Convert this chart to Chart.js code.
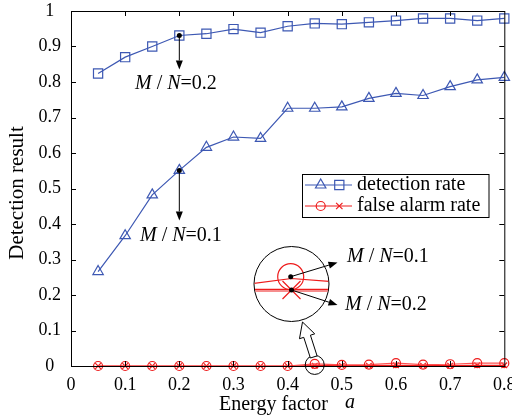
<!DOCTYPE html>
<html>
<head>
<meta charset="utf-8">
<script src="https://cdn.jsdelivr.net/npm/chart.js@4.4.0/dist/chart.umd.min.js"></script>
<style>
  body { margin: 0; background: #fff; }
  canvas { display: block; }
</style>
</head>
<body>
<canvas id="chart" width="512" height="418"></canvas>
<script>
// Energy factor a (x) and detection results
const energy = [0.05, 0.1, 0.15, 0.2, 0.25, 0.3, 0.35, 0.4, 0.45, 0.5, 0.55, 0.6, 0.65, 0.7, 0.75, 0.8];
const detectMN01 = [0.266, 0.367, 0.482, 0.551, 0.616, 0.645, 0.641, 0.726, 0.726, 0.730, 0.754, 0.768, 0.762, 0.787, 0.806, 0.813];
const detectMN02 = [0.824, 0.870, 0.900, 0.931, 0.936, 0.949, 0.939, 0.957, 0.965, 0.963, 0.968, 0.973, 0.979, 0.979, 0.973, 0.979];
const falseMN01 = [0, 0, 0, 0, 0, 0, 0, 0, 0.006, 0.003, 0.004, 0.008, 0.004, 0.005, 0.008, 0.008];
const falseMN02 = [0, 0, 0, 0, 0, 0, 0, 0, 0.001, 0.001, 0.001, 0.002, 0.001, 0.001, 0.002, 0.002];
const xTicks = [0, 0.1, 0.2, 0.3, 0.4, 0.5, 0.6, 0.7, 0.8];
const yTicks = [0, 0.1, 0.2, 0.3, 0.4, 0.5, 0.6, 0.7, 0.8, 0.9, 1];

const BLUE = '#3d58b3';
const RED = '#ee1c1c';
const RED_LIGHT = '#ff5050';
const SERIF = '"Liberation Serif", "DejaVu Serif", serif';

const toPoints = ys => ys.map((y, i) => ({ x: energy[i], y: y }));

function arrow(ctx, x1, y1, x2, y2) {
    const ang = Math.atan2(y2 - y1, x2 - x1);
    const hl = 9, hw = 3.5;
    const bx = x2 - Math.cos(ang) * hl, by = y2 - Math.sin(ang) * hl;
    ctx.beginPath();
    ctx.moveTo(x1, y1);
    ctx.lineTo(bx, by);
    ctx.stroke();
    ctx.beginPath();
    ctx.moveTo(x2, y2);
    ctx.lineTo(bx - Math.sin(ang) * hw, by + Math.cos(ang) * hw);
    ctx.lineTo(bx + Math.sin(ang) * hw, by - Math.cos(ang) * hw);
    ctx.closePath();
    ctx.fill();
}

function dot(ctx, x, y) {
    ctx.beginPath();
    ctx.arc(x, y, 2.5, 0, Math.PI * 2);
    ctx.fill();
}

// "M / N=0.x" with italic M and N, left edge x, middle y
function mnLabel(ctx, x, y, val) {
    const parts = [['M', true], [' / ', false], ['N', true], ['=' + val, false]];
    ctx.textBaseline = 'middle';
    ctx.textAlign = 'left';
    parts.forEach(p => {
        ctx.font = (p[1] ? 'italic ' : '') + '20px ' + SERIF;
        ctx.fillText(p[0], x, y);
        x += ctx.measureText(p[0]).width;
    });
}

const decorPlugin = {
    id: 'decor',
    afterDraw(chart) {
        const ctx = chart.ctx;
        const a = chart.chartArea;
        const xs = chart.scales.x, ys = chart.scales.y;
        ctx.save();

        // frame and inward ticks
        ctx.strokeStyle = '#000';
        ctx.lineWidth = 1;
        ctx.strokeRect(a.left + 0.5, a.top + 0.5, a.right - a.left, a.bottom - a.top);
        ctx.beginPath();
        xTicks.slice(1, -1).forEach(v => {
            const px = Math.round(xs.getPixelForValue(v)) + 0.5;
            ctx.moveTo(px, a.bottom); ctx.lineTo(px, a.bottom - 5);
            ctx.moveTo(px, a.top); ctx.lineTo(px, a.top + 5);
        });
        yTicks.slice(1, -1).forEach(v => {
            const py = Math.round(ys.getPixelForValue(v)) + 0.5;
            ctx.moveTo(a.left, py); ctx.lineTo(a.left + 5, py);
            ctx.moveTo(a.right, py); ctx.lineTo(a.right - 5, py);
        });
        ctx.stroke();

        // axis titles
        ctx.fillStyle = '#000';
        ctx.font = '20px ' + SERIF;
        ctx.textBaseline = 'middle';
        ctx.textAlign = 'left';
        ctx.fillText('Energy factor', 219, 405);
        ctx.font = 'italic 20px ' + SERIF;
        ctx.fillText('a', 345, 403);
        ctx.save();
        ctx.translate(17, 193);
        ctx.rotate(-Math.PI / 2);
        ctx.font = '21px ' + SERIF;
        ctx.textAlign = 'center';
        ctx.fillText('Detection result', 0, 0);
        ctx.restore();

        // M/N callouts on the detection curves
        const x02 = xs.getPixelForValue(energy[3]);
        const ySq = ys.getPixelForValue(detectMN02[3]);
        const yTr = ys.getPixelForValue(detectMN01[3]);
        ctx.strokeStyle = '#000';
        ctx.fillStyle = '#000';
        ctx.lineWidth = 1;
        dot(ctx, x02, ySq);
        arrow(ctx, x02, ySq, x02, ySq + 34);
        mnLabel(ctx, 135, 84, '0.2');
        dot(ctx, x02, yTr);
        arrow(ctx, x02, yTr, x02, yTr + 50);
        mnLabel(ctx, 140, 236, '0.1');

        // zoom circle near 0.45 and block arrow to the inset
        const zx = xs.getPixelForValue(0.45), zy = ys.getPixelForValue(0.003);
        ctx.beginPath();
        ctx.arc(zx, zy, 9.5, 0, Math.PI * 2);
        ctx.stroke();

        const T = [zx - 1, zy - 8], P = [302.5, 322];
        const len = Math.hypot(P[0] - T[0], P[1] - T[1]);
        const d = [(P[0] - T[0]) / len, (P[1] - T[1]) / len], n = [-d[1], d[0]];
        const hl = 15, w1 = 3.5, w2 = 8;
        const nk = [T[0] + d[0] * (len - hl), T[1] + d[1] * (len - hl)];
        const pts = [
            [T[0] + n[0] * w1, T[1] + n[1] * w1],
            [nk[0] + n[0] * w1, nk[1] + n[1] * w1],
            [nk[0] + n[0] * w2, nk[1] + n[1] * w2],
            P,
            [nk[0] - n[0] * w2, nk[1] - n[1] * w2],
            [nk[0] - n[0] * w1, nk[1] - n[1] * w1],
            [T[0] - n[0] * w1, T[1] - n[1] * w1]
        ];
        ctx.beginPath();
        pts.forEach((p, i) => i ? ctx.lineTo(p[0], p[1]) : ctx.moveTo(p[0], p[1]));
        ctx.closePath();
        ctx.fillStyle = '#fff';
        ctx.fill();
        ctx.stroke();

        // inset magnification
        const cx = 291.5, cy = 284;
        ctx.beginPath();
        ctx.arc(cx, cy, 37.5, 0, Math.PI * 2);
        ctx.fillStyle = '#fff';
        ctx.fill();
        ctx.stroke();
        ctx.save();
        ctx.beginPath();
        ctx.arc(cx, cy, 37, 0, Math.PI * 2);
        ctx.clip();
        ctx.strokeStyle = RED;
        ctx.lineWidth = 1.2;
        ctx.beginPath();
        ctx.moveTo(cx - 38, 283.5); ctx.lineTo(cx, 278.5); ctx.lineTo(cx + 38, 281.5);
        ctx.stroke();
        ctx.beginPath();
        ctx.moveTo(cx - 38, 289.3); ctx.lineTo(cx + 38, 289.3);
        ctx.moveTo(cx - 38, 291); ctx.lineTo(cx + 38, 291);
        ctx.stroke();
        ctx.beginPath();
        ctx.arc(cx - 0.8, 276.7, 13, 0, Math.PI * 2);
        ctx.stroke();
        ctx.beginPath();
        ctx.moveTo(cx - 9, 281); ctx.lineTo(cx + 9, 299);
        ctx.moveTo(cx + 9, 281); ctx.lineTo(cx - 9, 299);
        ctx.stroke();
        ctx.restore();

        ctx.fillStyle = '#000';
        ctx.strokeStyle = '#000';
        ctx.lineWidth = 1;
        dot(ctx, cx - 0.8, 276.7);
        dot(ctx, cx, 290);
        arrow(ctx, cx - 0.8, 276.7, 337.5, 262.5);
        arrow(ctx, cx, 290, 337.5, 305);
        mnLabel(ctx, 347, 257, '0.1');
        mnLabel(ctx, 345, 305, '0.2');

        // legend box
        ctx.fillStyle = '#fff';
        ctx.fillRect(302.5, 174.5, 186.5, 43);
        ctx.strokeRect(302.5, 174.5, 186.5, 43);
        const rows = [
            { y: 185, color: BLUE, text: 'detection rate', marks: ['triangle', 'rect'] },
            { y: 206, color: RED, text: 'false alarm rate', marks: ['circle', 'crossRot'] }
        ];
        const rad = { triangle: 6, rect: 6.5, circle: 4.5, crossRot: 4.5 };
        rows.forEach(r => {
            ctx.strokeStyle = r.color;
            ctx.fillStyle = 'rgba(0,0,0,0)';
            ctx.lineWidth = 1.2;
            ctx.beginPath();
            ctx.moveTo(305, r.y); ctx.lineTo(352, r.y);
            ctx.stroke();
            Chart.helpers.drawPoint(ctx, { pointStyle: r.marks[0], radius: rad[r.marks[0]], borderWidth: 1.2 }, 320.7, r.y);
            Chart.helpers.drawPoint(ctx, { pointStyle: r.marks[1], radius: rad[r.marks[1]], borderWidth: 1.2 }, 339.3, r.y);
            ctx.fillStyle = '#000';
            ctx.font = '20px ' + SERIF;
            ctx.textAlign = 'left';
            ctx.textBaseline = 'middle';
            ctx.fillText(r.text, 357, r.y);
        });

        ctx.restore();
    }
};

const common = { showLine: true, fill: false, tension: 0, clip: false, borderWidth: 1.2, pointBorderWidth: 1.2, pointBackgroundColor: 'rgba(0,0,0,0)' };

new Chart(document.getElementById('chart'), {
    type: 'scatter',
    data: {
        datasets: [
            Object.assign({}, common, { label: 'false alarm rate M/N=0.1', data: toPoints(falseMN01), borderColor: RED_LIGHT, pointBorderColor: RED, pointStyle: 'circle', pointRadius: 4.5 }),
            Object.assign({}, common, { label: 'false alarm rate M/N=0.2', data: toPoints(falseMN02), borderColor: RED, pointBorderColor: RED, pointStyle: 'crossRot', pointRadius: 4 }),
            Object.assign({}, common, { label: 'detection rate M/N=0.1', data: toPoints(detectMN01), borderColor: BLUE, pointBorderColor: BLUE, pointStyle: 'triangle', pointRadius: 6 }),
            Object.assign({}, common, { label: 'detection rate M/N=0.2', data: toPoints(detectMN02), borderColor: BLUE, pointBorderColor: BLUE, pointStyle: 'rect', pointRadius: 6.5 })
        ]
    },
    options: {
        responsive: false,
        animation: false,
        devicePixelRatio: 1,
        layout: { padding: { top: 11, right: 4, left: 0, bottom: 0 } },
        plugins: { legend: { display: false }, tooltip: { enabled: false } },
        scales: {
            x: {
                type: 'linear', min: 0, max: 0.8,
                afterFit(s) { s.height = 52; s.paddingLeft = 0; s.paddingRight = 0; },
                afterBuildTicks(s) { s.ticks = xTicks.map(v => ({ value: v })); },
                grid: { display: false, drawTicks: false }, border: { display: false },
                ticks: {
                    color: '#000', padding: 8, maxRotation: 0,
                    font: { family: SERIF, size: 18 },
                    callback: v => v === 0 ? '0' : v.toFixed(1)
                }
            },
            y: {
                min: 0, max: 1,
                afterFit(s) { s.width = 71; s.paddingTop = 0; s.paddingBottom = 0; },
                afterBuildTicks(s) { s.ticks = yTicks.map(v => ({ value: v })); },
                grid: { display: false, drawTicks: false }, border: { display: false },
                ticks: {
                    color: '#000', padding: 10, crossAlign: 'center',
                    font: { family: SERIF, size: 18 },
                    callback: v => (v === 0 || v === 1) ? String(v) : v.toFixed(1)
                }
            }
        }
    },
    plugins: [decorPlugin]
});
</script>
</body>
</html>
